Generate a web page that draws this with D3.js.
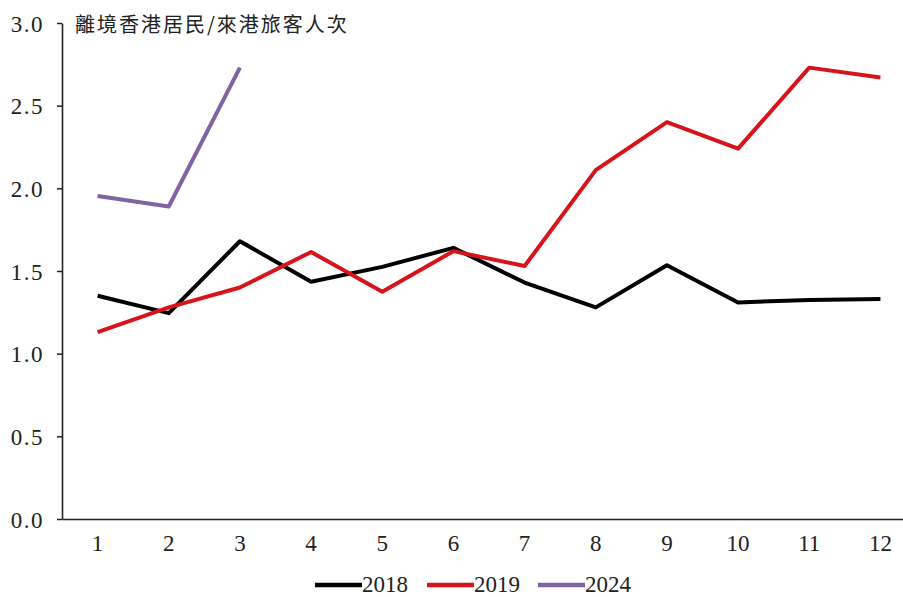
<!DOCTYPE html>
<html><head><meta charset="utf-8">
<script src="https://cdn.jsdelivr.net/npm/d3@7"></script>
<style>
html,body{margin:0;padding:0;background:#fff;}
svg{display:block;}
.num{font-family:"Liberation Serif","DejaVu Serif",serif;font-size:23px;fill:#222;}
.title{font-family:"Noto Sans CJK TC","Noto Sans CJK SC",sans-serif;font-size:20px;fill:#222;letter-spacing:2px;}
</style></head>
<body>
<script>
const months = [1,2,3,4,5,6,7,8,9,10,11,12];
const series2018 = [1.35,1.245,1.68,1.435,1.525,1.64,1.43,1.28,1.535,1.31,1.325,1.33];
const series2019 = [1.13,1.28,1.40,1.615,1.375,1.62,1.53,2.11,2.40,2.24,2.73,2.67];
const series2024 = [1.954,1.89,2.73];
const seriesNames = ["2018","2019","2024"];
const seriesColors = ["#000000","#d7141c","#8064a2"];
const yTicks = [0,0.5,1.0,1.5,2.0,2.5,3.0];
const titleText = "離境香港居民/來港旅客人次";

const W = 903, H = 597;
const svg = d3.select("body").append("svg").attr("width",W).attr("height",H);

const x = d3.scaleBand().domain(months).range([62,916]).paddingInner(0).paddingOuter(0);
const xc = d => x(d) + x.bandwidth()/2;
const y = d3.scaleLinear().domain([0,3]).range([519,23]);

// y axis
const ya = svg.append("g").attr("transform","translate(62,0)")
  .call(d3.axisLeft(y).tickValues(yTicks).tickSize(5).tickSizeOuter(0).tickPadding(13).tickFormat(d3.format(".1f")));
ya.select(".domain").attr("stroke","#222").attr("stroke-width",1.6);
ya.selectAll(".tick line").attr("stroke","#222").attr("stroke-width",1.5);
ya.selectAll(".tick text").attr("class","num").attr("letter-spacing","1.5px").attr("dy","0.35em");

// x axis
const xa = svg.append("g").attr("transform","translate(0,519)")
  .call(d3.axisBottom(x).tickSize(0).tickSizeOuter(0).tickPadding(16));
xa.select(".domain").attr("stroke","#222").attr("stroke-width",1.6);
xa.selectAll(".tick text").attr("class","num");

// title
svg.append("text").attr("class","title").attr("x",75).attr("y",32).text(titleText);

// lines
const allSeries = [series2018, series2019, series2024];
const line = d3.line().x((d,i)=>xc(months[i])).y(d=>y(d));
allSeries.forEach((s,k)=>{
  svg.append("path").datum(s)
    .attr("fill","none").attr("stroke",seriesColors[k]).attr("stroke-width",4)
    .attr("stroke-linejoin","round").attr("stroke-linecap","butt")
    .attr("d",line);
});

// legend
const legendX = [315,427,538];
seriesNames.forEach((n,k)=>{
  const g = svg.append("g").attr("transform",`translate(${legendX[k]},0)`);
  g.append("line").attr("x1",0).attr("x2",47).attr("y1",585).attr("y2",585)
    .attr("stroke",seriesColors[k]).attr("stroke-width",4.5);
  g.append("text").attr("class","num").attr("x",47).attr("y",592).text(n);
});
</script>
</body></html>
